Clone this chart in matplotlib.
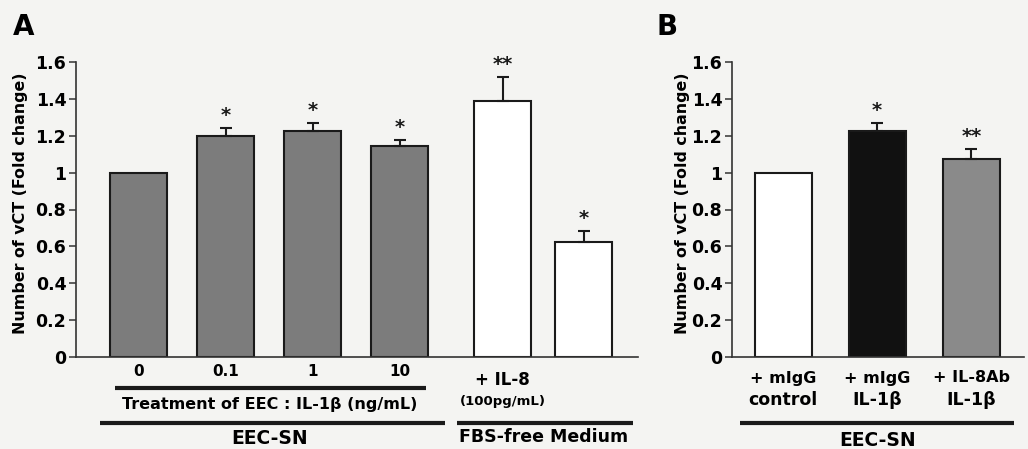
import matplotlib
matplotlib.use("Agg")
import matplotlib.pyplot as plt
import matplotlib.transforms as mtransforms
from matplotlib.lines import Line2D

# ---------------- data ----------------
labels_A = ["0", "0.1", "1", "10", "+ IL-8", ""]
values_A = [1.00, 1.20, 1.225, 1.145, 1.39, 0.625]
errors_A = [0.0, 0.04, 0.045, 0.03, 0.13, 0.06]
stars_A = ["", "*", "*", "*", "**", "*"]
sub_label_A = "(100pg/mL)"
group_A1 = "Treatment of EEC : IL-1\u03b2 (ng/mL)"
group_A2 = "EEC-SN"
group_A3 = "FBS-free Medium"

labels_B_top = ["+ mIgG", "+ mIgG", "+ IL-8Ab"]
labels_B_bottom = ["control", "IL-1\u03b2", "IL-1\u03b2"]
values_B = [1.00, 1.225, 1.075]
errors_B = [0.0, 0.045, 0.055]
stars_B = ["", "*", "**"]
group_B = "EEC-SN"

yticks = [0, 0.2, 0.4, 0.6, 0.8, 1.0, 1.2, 1.4, 1.6]
ytick_labels = ["0", "0.2", "0.4", "0.6", "0.8", "1", "1.2", "1.4", "1.6"]
ylabel = "Number of vCT (Fold change)"

# ---------------- layout / style ----------------
W, H = 1028, 449
BG = "#f4f4f2"
GRAY = "#7c7c7c"
pos_A = [0, 1, 2, 3, 4.18, 5.11]
colors_A = [GRAY, GRAY, GRAY, GRAY, "white", "white"]
pos_B = [0, 1, 2]
colors_B = ["white", "#111111", "#8a8a8a"]

plt.rcParams["font.family"] = ["DejaVu Sans"]
plt.rcParams["font.weight"] = "bold"

fig = plt.figure(figsize=(W / 100, H / 100), dpi=100, facecolor=BG)

def fy(py):
    return 1 - py / H

def fx(px):
    return px / W

axA = fig.add_axes([fx(76), fy(357), fx(638) - fx(76), fy(62) - fy(357)])
axB = fig.add_axes([fx(732), fy(357), fx(1024) - fx(732), fy(62) - fy(357)])

def style_axis(ax):
    ax.set_facecolor(BG)
    ax.set_ylim(0, 1.6)
    ax.set_yticks(yticks)
    ax.set_yticklabels(ytick_labels, fontsize=12.5, fontweight="bold")
    ax.tick_params(axis="y", length=5, width=1.1, pad=2, color="#333333")
    ax.tick_params(axis="x", length=0, labelbottom=False)
    for s in ["top", "right"]:
        ax.spines[s].set_visible(False)
    for s in ["left", "bottom"]:
        ax.spines[s].set_linewidth(1.2)
        ax.spines[s].set_color("#333333")

def draw_bars(ax, pos, vals, errs, cols, stars, width):
    ax.bar(pos, vals, width=width, color=cols, edgecolor="#1a1a1a",
           linewidth=1.5, zorder=2)
    for x, v, e, s in zip(pos, vals, errs, stars):
        if e > 0:
            ax.errorbar([x], [v], yerr=[[0], [e]], fmt="none", ecolor="#1a1a1a",
                        elinewidth=1.5, capsize=4.5, capthick=1.5, zorder=3)
        if s:
            ax.annotate(s, (x, v + e), xytext=(0, 5), textcoords="offset points",
                        ha="center", va="baseline", fontsize=14,
                        fontweight="bold", color="#1a1a1a")

# Panel A
style_axis(axA)
axA.set_xlim(-0.724, 5.736)
draw_bars(axA, pos_A, values_A, errors_A, colors_A, stars_A, 0.655)
# Panel B
style_axis(axB)
axB.set_xlim(-0.543, 2.56)
draw_bars(axB, pos_B, values_B, errors_B, colors_B, stars_B, 0.606)

# labels below axes (x in data units, y in figure units)
def btrans(ax):
    return mtransforms.blended_transform_factory(ax.transData, fig.transFigure)

tA = btrans(axA)
tB = btrans(axB)
for x, lab in zip(pos_A[:4], labels_A[:4]):
    fig.text(x, fy(372), lab, transform=tA, ha="center", va="center",
             fontsize=11, fontweight="bold")
fig.text(pos_A[4], fy(380), labels_A[4], transform=tA, ha="center",
         va="center", fontsize=12, fontweight="bold")
fig.text(pos_A[4], fy(402), sub_label_A, transform=tA, ha="center",
         va="center", fontsize=9.5, fontweight="bold")

def hline(trans, x0, x1, py, lw=3):
    fig.add_artist(Line2D([x0, x1], [fy(py), fy(py)], transform=trans,
                          color="#1a1a1a", linewidth=lw, solid_capstyle="butt"))

hline(tA, -0.28, 3.30, 388)
fig.text((0 + 3) / 2, fy(405), group_A1, transform=tA, ha="center",
         va="center", fontsize=11.5, fontweight="bold")
hline(tA, -0.45, 3.52, 423)
fig.text(1.5, fy(438), group_A2, transform=tA, ha="center", va="center",
         fontsize=13.5, fontweight="bold")
hline(tA, 3.655, 5.68, 423)
fig.text((pos_A[4] + pos_A[5]) / 2, fy(437), group_A3, transform=tA,
         ha="center", va="center", fontsize=12.5, fontweight="bold")

for x, l1, l2 in zip(pos_B, labels_B_top, labels_B_bottom):
    fig.text(x, fy(378), l1, transform=tB, ha="center", va="center",
             fontsize=11.5, fontweight="bold")
    fig.text(x, fy(400), l2, transform=tB, ha="center", va="center",
             fontsize=12.5, fontweight="bold")
hline(tB, -0.457, 2.45, 423)
fig.text(1.0, fy(441), group_B, transform=tB, ha="center", va="center",
         fontsize=13.5, fontweight="bold")

# y labels
fig.text(fx(21), fy(203), ylabel, rotation=90, ha="center", va="center",
         fontsize=11.4, fontweight="bold")
fig.text(fx(682), fy(203), ylabel, rotation=90, ha="center", va="center",
         fontsize=11.4, fontweight="bold")

# panel letters
fig.text(fx(24), fy(27), "A", ha="center", va="center", fontsize=20,
         fontweight="bold")
fig.text(fx(667), fy(27), "B", ha="center", va="center", fontsize=20,
         fontweight="bold")

fig.savefig("out.png", dpi=100, facecolor=BG)
